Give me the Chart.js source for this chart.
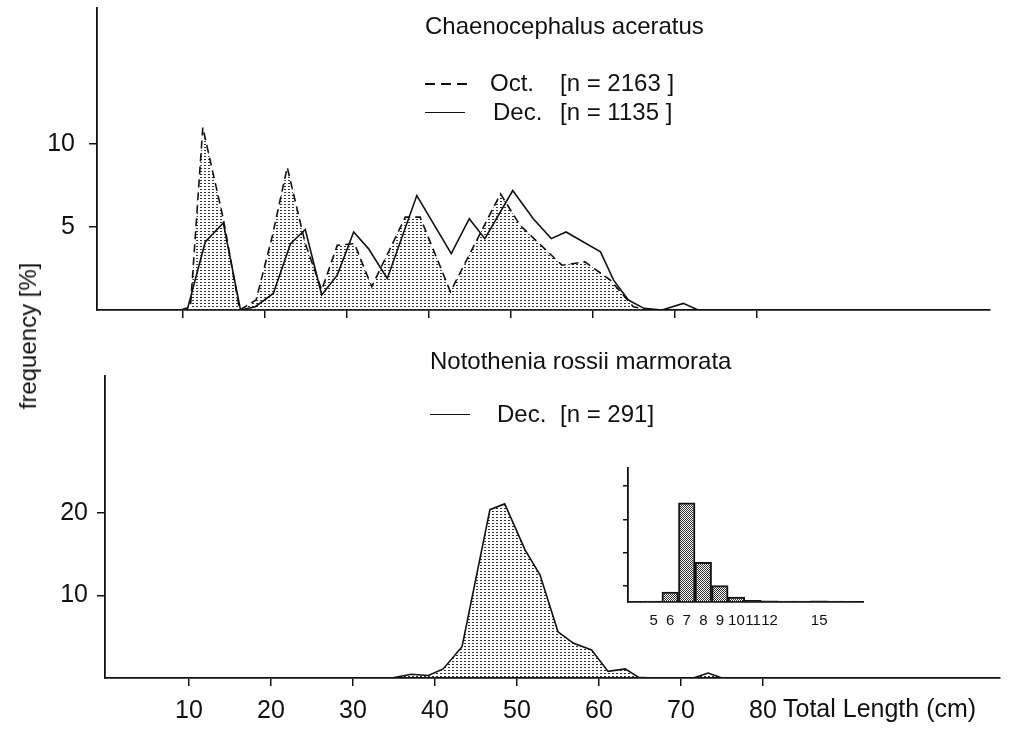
<!DOCTYPE html>
<html>
<head>
<meta charset="utf-8">
<script src="https://cdn.jsdelivr.net/npm/chart.js@4.4.0/dist/chart.umd.min.js"></script>
<style>
  body { margin: 0; background: #fff; width: 1011px; height: 731px; position: relative; overflow: hidden;
         font-family: "Liberation Sans", Arial, sans-serif; color: #111; }
  canvas { position: absolute; }
  .txt { position: absolute; font-size: 24px; line-height: 1; white-space: nowrap; }
  .dash { position: absolute; width: 42px; height: 2px;
          background: repeating-linear-gradient(to right, #111 0 10px, transparent 10px 16px); }
  .solid { position: absolute; width: 40px; height: 0; border-top: 1.6px solid #111; }
</style>
</head>
<body>
<canvas id="topChart" width="1011" height="340" style="left:0;top:0"></canvas>
<canvas id="bottomChart" width="1011" height="391" style="left:0;top:340px"></canvas>
<canvas id="insetChart" width="310" height="190" style="left:570px;top:440px"></canvas>

<div class="txt" style="left:425px;top:14px">Chaenocephalus aceratus</div>
<div class="dash" style="left:425px;top:83px"></div>
<div class="txt" style="left:490px;top:71px">Oct.</div>
<div class="txt" style="left:560px;top:71px">[n = 2163 ]</div>
<div class="solid" style="left:425px;top:112px"></div>
<div class="txt" style="left:493px;top:100px">Dec.</div>
<div class="txt" style="left:560px;top:100px">[n = 1135 ]</div>

<div class="txt" style="left:430px;top:349px">Notothenia rossii marmorata</div>
<div class="solid" style="left:430px;top:414px"></div>
<div class="txt" style="left:497px;top:402px">Dec.</div>
<div class="txt" style="left:560px;top:402px">[n = 291]</div>

<div class="txt" style="left:28px;top:336px;transform:translate(-50%,-50%) rotate(-90deg)">frequency [%]</div>
<div class="txt" style="left:783px;top:696px;font-size:25px">Total Length (cm)</div>

<script>
// Chaenocephalus aceratus - Oct.
const octLength = [9.8, 11.0, 12.5, 15.0, 17.0, 19.0, 21.0, 22.8, 25.0, 27.0, 28.9, 31.0, 33.1, 37.2, 39.0, 42.7, 48.8, 51.2, 56.3, 59.1, 62.2, 65.0, 67.0];
const octFreq   = [0, 0.2, 11.0, 5.5, 0, 0.6, 4.5, 8.6, 4.0, 1.2, 3.9, 4.0, 1.4, 5.6, 5.6, 1.1, 7.0, 5.1, 2.7, 2.9, 1.8, 0.2, 0];

// Chaenocephalus aceratus - Dec.
const decLength = [10.6, 12.8, 15.0, 17.1, 18.9, 21.1, 23.2, 25.0, 27.0, 28.9, 30.9, 32.7, 35.0, 38.6, 42.8, 45.0, 46.9, 50.3, 52.8, 55.0, 56.8, 61.0, 62.6, 64.4, 66.3, 68.5, 71.1, 72.9];
const decFreq   = [0, 4.1, 5.25, 0, 0.2, 1.0, 4.0, 4.85, 0.9, 2.1, 4.7, 3.7, 1.9, 6.9, 3.4, 5.5, 4.3, 7.2, 5.5, 4.3, 4.7, 3.5, 1.8, 0.6, 0.1, 0, 0.4, 0];

// Notothenia rossii marmorata - Dec.
const rossiiLength = [34.7, 37.1, 39.2, 41.0, 43.3, 46.7, 48.5, 51.0, 52.8, 55.0, 56.9, 59.1, 61.1, 63.2, 64.8, 66.5, 71.5, 73.3, 75.0];
const rossiiFreq   = [0, 0.45, 0.3, 1.1, 3.8, 20.4, 21.1, 15.5, 12.5, 5.6, 4.2, 3.4, 0.8, 1.1, 0.1, 0, 0, 0.6, 0];

// inset histogram
const ageClass = [4, 5, 6, 7, 8, 9, 10, 11, 12, 13, 14, 15, 16, 17];
const agePct   = [0.3, 0.5, 6, 60, 24, 10, 3, 1, 0.7, 0.5, 0.5, 0.7, 0.5, 0.3];

const lengthTicks = [10, 20, 30, 40, 50, 60, 70, 80];
const topYTicks = [5, 10];
const bottomYTicks = [10, 20];
const insetXTicks = [5, 6, 7, 8, 9, 10, 11, 12, 15];
const insetYTicks = [10, 20, 30, 40, 50, 60, 70];

const ink = "#111";
const fam = "'Liberation Sans', Arial, sans-serif";

function toPoints(xs, ys) {
  return xs.map((x, i) => ({ x: x, y: ys[i] }));
}

// stipple fills
function dots(w, h, cells, col) {
  const c = document.createElement("canvas");
  c.width = w; c.height = h;
  const g = c.getContext("2d");
  g.fillStyle = col;
  cells.forEach((p) => g.fillRect(p[0], p[1], p[2], p[3]));
  return g.createPattern(c, "repeat");
}
const stipple = dots(4, 3, [[0, 0, 2, 1]], "#333");
const hatch = dots(2, 2, [[0, 0, 1, 1], [1, 1, 1, 1]], "#333");

function fixed(list) {
  return (s) => { s.ticks = list.map((v) => ({ value: v })); };
}

// fixed axis thickness, no label overflow padding
function size(prop, n) {
  return (s) => {
    s[prop] = n;
    s.paddingTop = 0; s.paddingBottom = 0; s.paddingLeft = 0; s.paddingRight = 0;
  };
}

function axis(extra, tickLen) {
  return Object.assign({
    grid: { drawOnChartArea: false, drawTicks: true, tickLength: tickLen, color: ink, lineWidth: 1.5 },
    border: { display: true, color: ink, width: 1.8 },
  }, extra);
}

Chart.defaults.font.family = fam;
Chart.defaults.color = ink;

const baseOpts = {
  responsive: false,
  animation: false,
  plugins: { legend: { display: false }, tooltip: { enabled: false } },
  elements: { point: { radius: 0 }, line: { tension: 0, borderWidth: 1.6 } },
};

// upper panel
new Chart(document.getElementById("topChart").getContext("2d"), {
  type: "line",
  data: {
    datasets: [
      { label: "Dec.", data: toPoints(decLength, decFreq), borderColor: ink, fill: false },
      { label: "Oct.", data: toPoints(octLength, octFreq), borderColor: ink, borderDash: [8, 5],
        fill: "origin", backgroundColor: stipple },
    ],
  },
  options: Object.assign({}, baseOpts, {
    layout: { padding: { top: 8, right: 21, left: 0, bottom: 0 } },
    scales: {
      x: axis({ type: "linear", min: -0.4, max: 108.5, afterBuildTicks: fixed(lengthTicks),
                afterFit: size("height", 30),
                ticks: { autoSkip: false, callback: () => "" } }, 8),
      y: axis({ min: 0, max: 18.2, afterBuildTicks: fixed(topYTicks),
                afterFit: size("width", 97),
                ticks: { font: { size: 25 }, padding: 14 } }, 8),
    },
  }),
});

// lower panel
new Chart(document.getElementById("bottomChart").getContext("2d"), {
  type: "line",
  data: {
    datasets: [
      { label: "Dec.", data: toPoints(rossiiLength, rossiiFreq), borderColor: ink,
        fill: "origin", backgroundColor: stipple },
    ],
  },
  options: Object.assign({}, baseOpts, {
    layout: { padding: { top: 36, right: 11, left: 0, bottom: 0 } },
    scales: {
      x: axis({ type: "linear", min: -0.24, max: 108.9, afterBuildTicks: fixed(lengthTicks),
                afterFit: size("height", 53),
                ticks: { autoSkip: false, maxRotation: 0, font: { size: 25 }, padding: 10 } }, 8),
      y: axis({ min: 0, max: 36.6, afterBuildTicks: fixed(bottomYTicks),
                afterFit: size("width", 105),
                ticks: { font: { size: 25 }, padding: 9 } }, 8),
    },
  }),
});

// inset
new Chart(document.getElementById("insetChart").getContext("2d"), {
  type: "bar",
  data: {
    datasets: [
      { data: toPoints(ageClass, agePct), backgroundColor: hatch, borderColor: ink, borderWidth: 1.4,
        barPercentage: 1, categoryPercentage: 1 },
    ],
  },
  options: Object.assign({}, baseOpts, {
    layout: { padding: { top: 28, right: 17, left: 0, bottom: 0 } },
    scales: {
      x: axis({ type: "linear", offset: false, min: 3.45, max: 17.65, afterBuildTicks: fixed(insetXTicks),
                afterFit: size("height", 28),
                grid: { display: false },
                ticks: { autoSkip: false, maxRotation: 0, font: { size: 15 }, padding: 2 } }, 0),
      y: axis({ min: 0, max: 81, afterBuildTicks: fixed(insetYTicks),
                afterFit: size("width", 58),
                ticks: { font: { size: 18 }, padding: 3,
                         callback: (v) => (v % 20 === 0 ? v : "") } }, 5),
    },
  }),
});
</script>
</body>
</html>
